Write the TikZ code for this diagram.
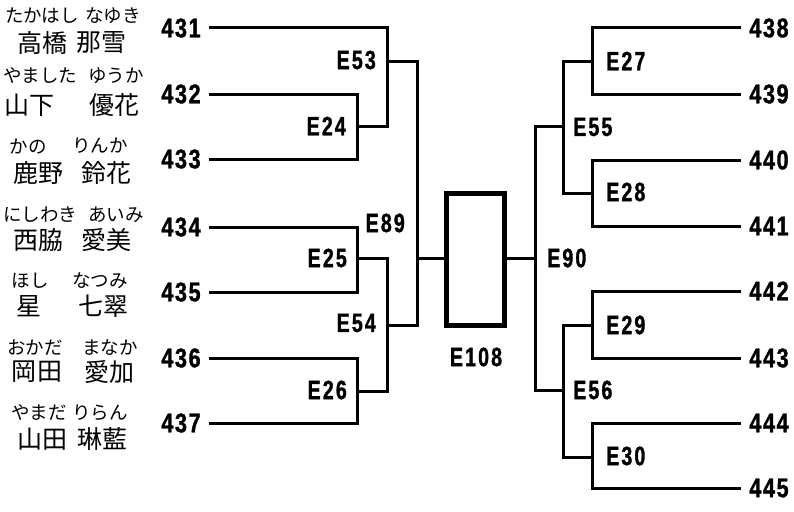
\documentclass[tikz,border=0pt]{standalone}
\usepackage{fontspec}
\newfontfamily\numfont[FakeStretch=0.8,LetterSpace=6,FakeBold=1.2]{Liberation Sans}
\newfontfamily\lblfont[FakeStretch=0.74,LetterSpace=8,FakeBold=1.2]{Liberation Sans}
\newfontfamily\jpfont{Noto Sans CJK JP}
\begin{document}
\begin{tikzpicture}[x=1pt,y=-1pt,
  wire/.style={line width=3pt},
  num/.style={font=\numfont\bfseries\fontsize{27}{29}\selectfont,inner xsep=8pt,inner ysep=0pt},
  lbl/.style={font=\lblfont\bfseries\fontsize{26.5}{28}\selectfont,inner sep=0pt},
  fur/.style={font=\jpfont\fontsize{18.5}{20}\selectfont,inner sep=0pt},
  nm/.style={font=\jpfont\fontsize{25}{27}\selectfont,inner sep=0pt},
  finalbox/.style={draw,line width=5.5pt,minimum width=58pt,minimum height=132pt,inner sep=0pt}]
\useasboundingbox (0,0) rectangle (794,511);

% names
\node[fur] (f1s) at (42,16) {たかはし};
\node[fur] (f1g) at (113,16) {なゆき};
\node[nm] (m1s) at (42,43) {高橋};
\node[nm] (m1g) at (101,43) {那雪};
\node[fur] (f2s) at (40,76) {やました};
\node[fur] (f2g) at (116,76) {ゆうか};
\node[nm] (m2s) at (30,105) {山下};
\node[nm] (m2g) at (114,105) {優花};
\node[fur] (f3s) at (28,146) {かの};
\node[fur] (f3g) at (100,146) {りんか};
\node[nm] (m3s) at (38,173) {鹿野};
\node[nm] (m3g) at (106,173) {鈴花};
\node[fur] (f4s) at (40,215) {にしわき};
\node[fur] (f4g) at (116,215) {あいみ};
\node[nm] (m4s) at (38,240) {西脇};
\node[nm] (m4g) at (106,240) {愛美};
\node[fur] (f5s) at (30,281) {ほし};
\node[fur] (f5g) at (100,281) {なつみ};
\node[nm] (m5s) at (29,306) {星};
\node[nm] (m5g) at (103,306) {七翠};
\node[fur] (f6s) at (35,348) {おかだ};
\node[fur] (f6g) at (110,348) {まなか};
\node[nm] (m6s) at (37,372) {岡田};
\node[nm] (m6g) at (109,372) {愛加};
\node[fur] (f7s) at (39,413) {やまだ};
\node[fur] (f7g) at (100,413) {りらん};
\node[nm] (m7s) at (42,439) {山田};
\node[nm] (m7g) at (102,439) {琳藍};

% numbers
\node[num] (n431) at (181,28) {431};
\node[num] (n432) at (181,94) {432};
\node[num] (n433) at (181,159) {433};
\node[num] (n434) at (181,227) {434};
\node[num] (n435) at (181,292) {435};
\node[num] (n436) at (181,358) {436};
\node[num] (n437) at (181,423) {437};
\node[num] (n438) at (769,28) {438};
\node[num] (n439) at (769,94) {439};
\node[num] (n440) at (769,160) {440};
\node[num] (n441) at (769,226) {441};
\node[num] (n442) at (769,291) {442};
\node[num] (n443) at (769,358) {443};
\node[num] (n444) at (769,423) {444};
\node[num] (n445) at (769,488) {445};

% junctions
\coordinate (j24) at (357,126); \coordinate (o24) at (387,126);
\coordinate (j25) at (357,258); \coordinate (o25) at (387,258);
\coordinate (j26) at (357,391); \coordinate (o26) at (387,391);
\coordinate (j53) at (387,61);
\coordinate (j54) at (387,325); \coordinate (o54) at (417,325);
\coordinate (j89) at (417,258);
\coordinate (j90) at (535,258);
\coordinate (j55) at (563,126); \coordinate (j56) at (563,390);
\coordinate (j27) at (592,61); \coordinate (j28) at (592,193);
\coordinate (j29) at (592,325); \coordinate (j30) at (592,457);

\node[finalbox] (final) at (475.5,259.5) {};

% left tree
\draw[wire] (n431) -| (o24) -- (j24);
\draw[wire] (n432) -| (j24) |- (n433);
\draw[wire] (n434) -| (j25) |- (n435);
\draw[wire] (n436) -| (j26) |- (n437);
\draw[wire] (j25) -- (o25) -- (o26) -- (j26);
\draw[wire] (j53) -| (o54) -- (j54);
\draw[wire] (j89) -- (j89 -| final.west);
% right tree
\draw[wire] (final.east |- j90) -- (j90);
\draw[wire] (j55) -| (j90) |- (j56);
\draw[wire] (j27) -| (j55) |- (j28);
\draw[wire] (j29) -| (j56) |- (j30);
\draw[wire] (n438) -| (j27) |- (n439);
\draw[wire] (n440) -| (j28) |- (n441);
\draw[wire] (n442) -| (j29) |- (n443);
\draw[wire] (n444) -| (j30) |- (n445);

% labels
\node[lbl,anchor=east] (l53) at (376,60) {E53};
\node[lbl,anchor=east] (l24) at (346,126) {E24};
\node[lbl,anchor=east] (l89) at (405,223) {E89};
\node[lbl,anchor=east] (l25) at (347,258) {E25};
\node[lbl,anchor=east] (l54) at (376,323) {E54};
\node[lbl,anchor=east] (l26) at (347,390) {E26};
\node[lbl] (l108) at (476,357) {E108};
\node[lbl,anchor=west] (l27) at (606,61) {E27};
\node[lbl,anchor=west] (l55) at (573,127) {E55};
\node[lbl,anchor=west] (l28) at (606,192) {E28};
\node[lbl,anchor=west] (l90) at (547,258) {E90};
\node[lbl,anchor=west] (l29) at (606,325) {E29};
\node[lbl,anchor=west] (l56) at (573,390) {E56};
\node[lbl,anchor=west] (l30) at (606,456) {E30};
\end{tikzpicture}
\end{document}
